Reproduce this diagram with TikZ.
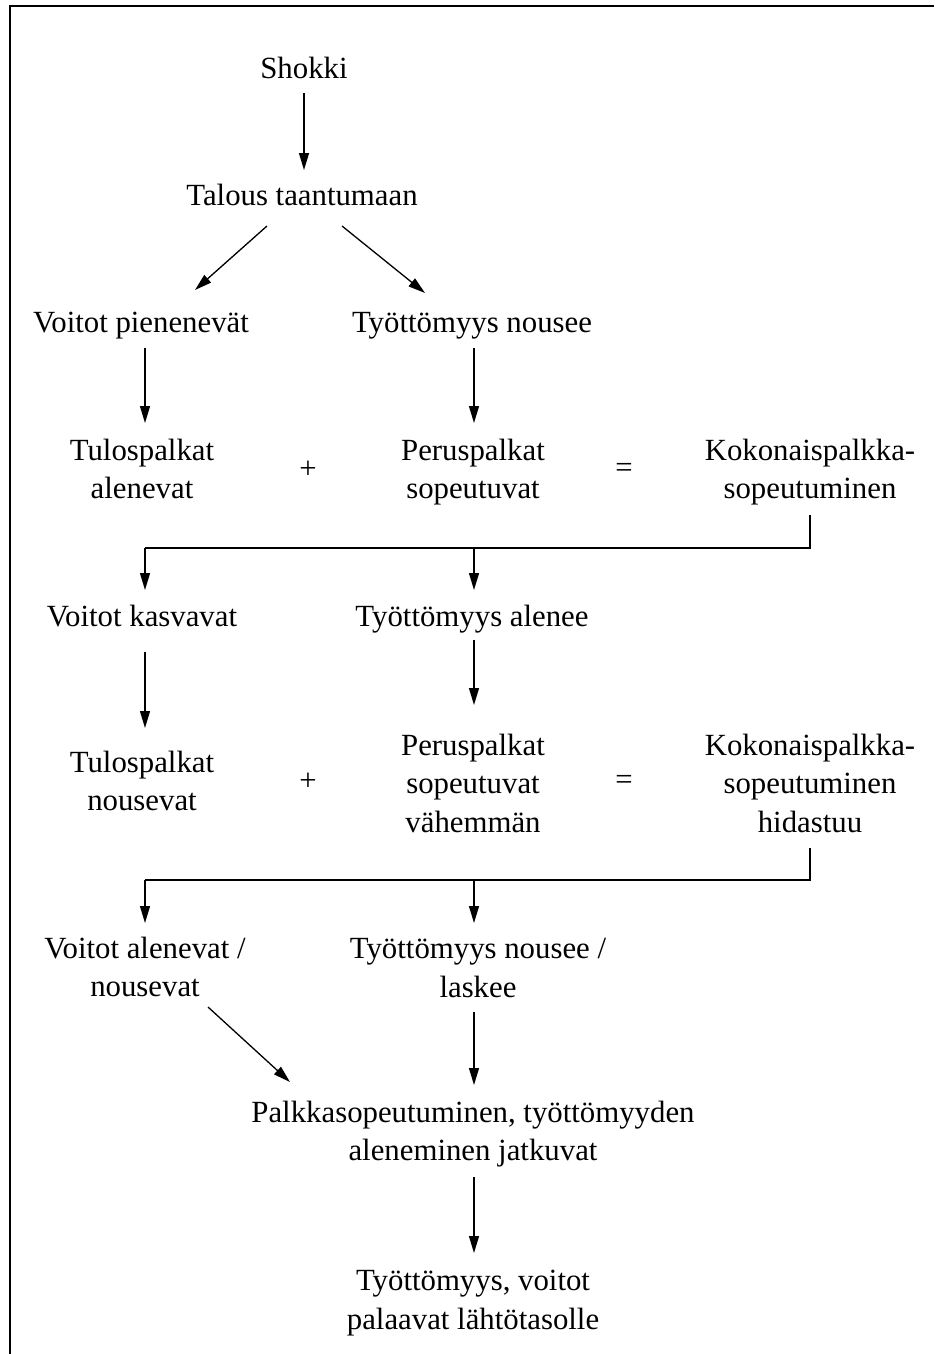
\documentclass[tikz,border=0pt]{standalone}
\usepackage{fontspec}
\setmainfont{Liberation Serif}
\usetikzlibrary{arrows.meta,calc}
\begin{document}
\begin{tikzpicture}[x=1pt,y=-1pt,
  txt/.style={align=center,inner sep=0pt,font=\fontsize{30.8}{38.5}\selectfont},
  arr/.style={line width=1.3pt,-{Triangle[length=17pt,width=10pt]}},
  ln/.style={line width=1.3pt},
  frame/.style={line width=1.5pt}]
\useasboundingbox (0,0) rectangle (934,1354);
\draw[frame] (10,1354) -- (10,6) -- (934,6);
\node[txt] (shokki) at (304,68) {Shokki};
\node[txt] (talous) at (302,195) {Talous taantumaan};
\node[txt] (vp) at (141,326) {Voitot pienenevät};
\node[txt] (tn) at (472,326) {Työttömyys nousee};
\node[txt] (tul1) at (142,469) {Tulospalkat\\alenevat};
\node[txt] (plus1) at (308,470) {+};
\node[txt] (per1) at (473,472) {Peruspalkat\\sopeutuvat};
\node[txt] (eq1) at (624,470) {=};
\node[txt] (kok1) at (810,472) {Kokonaispalkka-\\sopeutuminen};
\node[txt] (vk) at (142,616) {Voitot kasvavat};
\node[txt] (ta) at (472,619) {Työttömyys alenee};
\node[txt] (tul2) at (142,781) {Tulospalkat\\nousevat};
\node[txt] (plus2) at (308,782) {+};
\node[txt] (per2) at (473,783) {Peruspalkat\\sopeutuvat\\vähemmän};
\node[txt] (eq2) at (624,782) {=};
\node[txt] (kok2) at (810,783) {Kokonaispalkka-\\sopeutuminen\\hidastuu};
\node[txt] (va) at (145,967) {Voitot alenevat /\\nousevat};
\node[txt] (tnl) at (478,968) {Työttömyys nousee /\\laskee};
\node[txt] (palk) at (473,1134) {Palkkasopeutuminen, työttömyyden\\aleneminen jatkuvat};
\node[txt] (paa) at (473,1303) {Työttömyys, voitot\\palaavat lähtötasolle};
% connectors
\draw[arr] ($(shokki)+(0,25)$) -- ($(talous)+(2,-25)$);
\draw[arr] ($(talous)+(-35,31)$) -- ($(vp)+(54,-36)$);
\draw[arr] ($(talous)+(40,31)$) -- ($(tn)+(-47,-33)$);
\draw[arr] ($(vp)+(4,22)$) -- ($(tul1)+(3,-46)$);
\draw[arr] ($(tn)+(2,22)$) -- ($(per1)+(1,-49)$);
\coordinate (j1) at ($(kok1)+(0,76)$);
\coordinate (j1a) at ($(per1)+(1,76)$);
\draw[ln] ($(kok1)+(0,43)$) -- (j1) -- ($(tul1)+(3,79)$) coordinate (j1b);
\draw[arr] (j1b) -- ($(vk)+(3,-26)$);
\draw[arr] (j1a) -- ($(ta)+(2,-29)$);
\draw[arr] ($(vk)+(3,36)$) -- ($(tul2)+(3,-53)$);
\draw[arr] ($(ta)+(2,21)$) -- ($(per2)+(1,-78)$);
\coordinate (j2) at ($(kok2)+(0,97)$);
\coordinate (j2a) at ($(per2)+(1,97)$);
\draw[ln] ($(kok2)+(0,65)$) -- (j2) -- ($(tul2)+(3,99)$) coordinate (j2b);
\draw[arr] (j2b) -- ($(va)+(0,-44)$);
\draw[arr] (j2a) -- ($(tnl)+(-4,-45)$);
\draw[arr] ($(va)+(63,40)$) -- ($(palk)+(-183,-52)$);
\draw[arr] ($(tnl)+(-4,44)$) -- ($(palk)+(1,-49)$);
\draw[arr] ($(palk)+(1,43)$) -- ($(paa)+(1,-50)$);
\end{tikzpicture}
\end{document}
